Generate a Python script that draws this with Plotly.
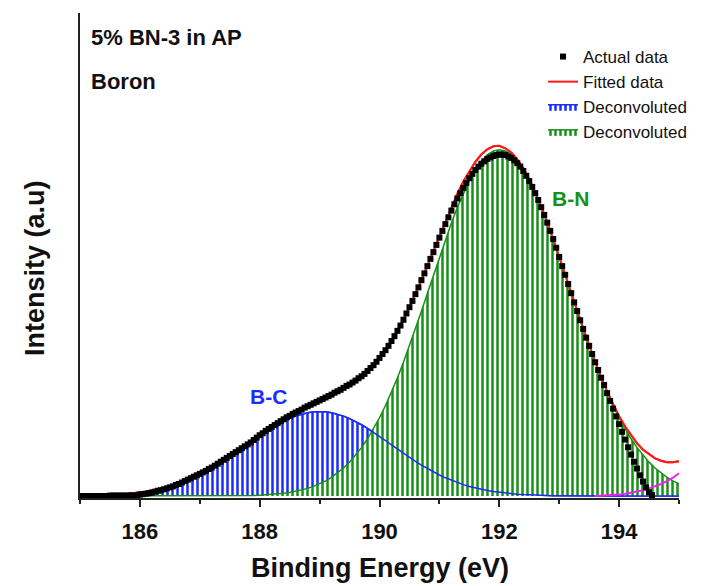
import numpy as np
import plotly.graph_objects as go

# ---------------- data ----------------
# component / fit grid: 185.0 .. 195.0 eV, step 0.1
energy_fit = [round(185.0 + 0.1 * i, 2) for i in range(101)]

bc_component = [
    0.0007, 0.0009, 0.0012, 0.0015, 0.0019, 0.0025, 0.0032, 0.0040, 0.0050, 0.0062,
    0.0077, 0.0094, 0.0115, 0.0139, 0.0167, 0.0200, 0.0237, 0.0279, 0.0326, 0.0378,
    0.0436, 0.0500, 0.0568, 0.0642, 0.0719, 0.0801, 0.0886, 0.0973, 0.1061, 0.1150,
    0.1237, 0.1321, 0.1401, 0.1476, 0.1544, 0.1604, 0.1655, 0.1696, 0.1726, 0.1744,
    0.1750, 0.1744, 0.1726, 0.1696, 0.1655, 0.1604, 0.1544, 0.1476, 0.1401, 0.1321,
    0.1237, 0.1150, 0.1061, 0.0973, 0.0886, 0.0801, 0.0719, 0.0642, 0.0568, 0.0500,
    0.0436, 0.0378, 0.0326, 0.0279, 0.0237, 0.0200, 0.0167, 0.0139, 0.0115, 0.0094,
    0.0077, 0.0062, 0.0050, 0.0040, 0.0032, 0.0025, 0.0019, 0.0015, 0.0012, 0.0009,
    0.0007, 0.0005, 0.0004, 0.0003, 0.0002, 0.0002, 0.0001, 0.0, 0.0, 0.0,
    0.0, 0.0, 0.0, 0.0, 0.0, 0.0, 0.0, 0.0, 0.0, 0.0,
    0.0,
]

bn_component = [
    0.0, 0.0, 0.0, 0.0, 0.0, 0.0, 0.0, 0.0, 0.0, 0.0,
    0.0, 0.0, 0.0, 0.0, 0.0, 0.0, 0.0, 0.0, 0.0, 0.0,
    0.0, 0.0, 0.0, 0.0, 0.0, 0.0, 0.0005, 0.0007, 0.0010, 0.0014,
    0.0019, 0.0025, 0.0033, 0.0044, 0.0058, 0.0075, 0.0098, 0.0125, 0.0159, 0.0201,
    0.0253, 0.0315, 0.0389, 0.0477, 0.0581, 0.0702, 0.0843, 0.1003, 0.1186, 0.1392,
    0.1621, 0.1874, 0.2150, 0.2449, 0.2768, 0.3107, 0.3460, 0.3825, 0.4198, 0.4572,
    0.4944, 0.5306, 0.5652, 0.5976, 0.6272, 0.6534, 0.6756, 0.6934, 0.7064, 0.7143,
    0.7170, 0.7143, 0.7064, 0.6934, 0.6756, 0.6534, 0.6272, 0.5976, 0.5652, 0.5306,
    0.4944, 0.4572, 0.4198, 0.3825, 0.3460, 0.3107, 0.2768, 0.2449, 0.2150, 0.1874,
    0.1621, 0.1392, 0.1186, 0.1003, 0.0843, 0.0702, 0.0581, 0.0477, 0.0389, 0.0315,
    0.0253,
]

fitted = [
    0.001, 0.001, 0.001, 0.002, 0.002, 0.003, 0.003, 0.004, 0.005, 0.006,
    0.008, 0.009, 0.012, 0.014, 0.017, 0.020, 0.024, 0.028, 0.033, 0.038,
    0.044, 0.050, 0.057, 0.064, 0.072, 0.080, 0.089, 0.098, 0.107, 0.116,
    0.126, 0.135, 0.143, 0.152, 0.160, 0.168, 0.175, 0.182, 0.189, 0.195,
    0.200, 0.206, 0.212, 0.217, 0.224, 0.231, 0.239, 0.248, 0.259, 0.271,
    0.286, 0.302, 0.321, 0.342, 0.365, 0.391, 0.418, 0.447, 0.477, 0.507,
    0.538, 0.568, 0.598, 0.626, 0.651, 0.673, 0.692, 0.707, 0.718, 0.724,
    0.725, 0.720, 0.711, 0.697, 0.679, 0.656, 0.629, 0.599, 0.566, 0.532,
    0.495, 0.458, 0.420, 0.383, 0.346, 0.311, 0.277, 0.245, 0.216, 0.189,
    0.165, 0.144, 0.126, 0.109, 0.096, 0.086, 0.078, 0.073, 0.070, 0.070,
    0.072,
]

# third (high-energy) component
energy_tail = [193.6, 193.7, 193.8, 193.9, 194.0, 194.1, 194.2, 194.3, 194.4,
               194.5, 194.6, 194.7, 194.8, 194.9, 195.0]
tail_component = [0.000, 0.0005, 0.001, 0.002, 0.003, 0.005, 0.007, 0.009, 0.012,
                  0.016, 0.020, 0.025, 0.031, 0.038, 0.047]

# measured data: 185.00 .. 194.55 eV, step 0.05
energy_data = [round(185.0 + 0.05 * i, 2) for i in range(192)]
actual = [
    0.000, 0.000, 0.000, 0.000, 0.000, 0.000, 0.000, 0.000, 0.000, 0.000,
    0.001, 0.001, 0.001, 0.001, 0.001, 0.001, 0.001, 0.001, 0.001, 0.001,
    0.003, 0.004, 0.005, 0.006, 0.007, 0.009, 0.011, 0.012, 0.014, 0.016,
    0.018, 0.020, 0.023, 0.025, 0.028, 0.031, 0.034, 0.037, 0.040, 0.043,
    0.046, 0.049, 0.052, 0.056, 0.059, 0.063, 0.067, 0.071, 0.075, 0.079,
    0.083, 0.087, 0.091, 0.095, 0.099, 0.103, 0.107, 0.111, 0.116, 0.121,
    0.126, 0.130, 0.135, 0.139, 0.143, 0.147, 0.151, 0.155, 0.159, 0.163,
    0.166, 0.170, 0.173, 0.176, 0.179, 0.183, 0.186, 0.189, 0.192, 0.195,
    0.198, 0.201, 0.204, 0.207, 0.210, 0.214, 0.217, 0.220, 0.224, 0.228,
    0.231, 0.235, 0.239, 0.244, 0.248, 0.253, 0.259, 0.265, 0.271, 0.278,
    0.286, 0.294, 0.302, 0.311, 0.321, 0.331, 0.342, 0.353, 0.365, 0.378,
    0.391, 0.404, 0.418, 0.432, 0.447, 0.461, 0.476, 0.491, 0.505, 0.520,
    0.535, 0.549, 0.563, 0.577, 0.591, 0.604, 0.616, 0.627, 0.638, 0.648,
    0.658, 0.667, 0.675, 0.682, 0.688, 0.693, 0.698, 0.701, 0.704, 0.706,
    0.707, 0.707, 0.706, 0.703, 0.700, 0.695, 0.689, 0.682, 0.673, 0.663,
    0.652, 0.640, 0.627, 0.613, 0.598, 0.582, 0.566, 0.549, 0.532, 0.514,
    0.495, 0.476, 0.458, 0.439, 0.420, 0.401, 0.383, 0.364, 0.346, 0.328,
    0.311, 0.294, 0.277, 0.261, 0.245, 0.230, 0.213, 0.197, 0.181, 0.165,
    0.149, 0.133, 0.117, 0.101, 0.086, 0.071, 0.057, 0.043, 0.030, 0.018,
    0.008, 0.002,
]

x_ticks = [186, 188, 190, 192, 194]
x_tick_text = ["186", "188", "190", "192", "194"]

# ---------------- styling ----------------
FONT = "Arial, 'Liberation Sans', sans-serif"
BLUE = "#1a2cff"
GREEN = "#179017"

fig = go.Figure()

# fitted envelope (drawn first, sits under everything)
fig.add_trace(go.Scatter(
    x=energy_fit, y=fitted, mode="lines", name="Fitted data",
    line=dict(color="#ff1a1a", width=2), legendrank=2,
))
# B-C filled component
fig.add_trace(go.Scatter(
    x=energy_fit, y=bc_component, mode="lines", name="Deconvoluted",
    line=dict(color=BLUE, width=1.5), fill="tozeroy",
    fillcolor="rgba(0,0,0,0)",
    fillpattern=dict(shape="|", fgcolor=BLUE, bgcolor="white",
                     size=5, solidity=0.5, fgopacity=1),
    legendrank=3,
))
# B-N filled component
fig.add_trace(go.Scatter(
    x=energy_fit, y=bn_component, mode="lines", name="Deconvoluted",
    line=dict(color=GREEN, width=1.5), fill="tozeroy",
    fillcolor="rgba(0,0,0,0)",
    fillpattern=dict(shape="|", fgcolor=GREEN, bgcolor="white",
                     size=5, solidity=0.5, fgopacity=1),
    legendrank=4,
))
# B-C edge drawn again on top of the green hatching
fig.add_trace(go.Scatter(
    x=energy_fit, y=bc_component, mode="lines", showlegend=False,
    line=dict(color=BLUE, width=1.5), hoverinfo="skip",
))
# fitted line again where it rises above the components (visible parts)
fig.add_trace(go.Scatter(
    x=energy_fit, y=fitted, mode="lines", showlegend=False,
    line=dict(color="#ff1a1a", width=2), hoverinfo="skip",
))
# tail component
fig.add_trace(go.Scatter(
    x=energy_tail, y=tail_component, mode="lines", showlegend=False,
    line=dict(color="#ee22ee", width=2),
))
# measured data
fig.add_trace(go.Scatter(
    x=energy_data, y=actual, mode="markers", name="Actual data",
    marker=dict(symbol="square", size=6, color="black"), legendrank=1,
))

W, H = 711, 586
L, R, T, B = 80, 32, 13, 88
PW, PH = W - L - R, H - T - B


def px_x(p):
    return (p - L) / PW


def px_y(p):
    return 1 - (p - T) / PH


annotations = [
    dict(text="<b>5% BN-3 in AP</b>", x=px_x(89), y=px_y(37), xanchor="left",
         yanchor="middle", font=dict(size=22, color="#111")),
    dict(text="<b>Boron</b>", x=px_x(89), y=px_y(82), xanchor="left",
         yanchor="middle", font=dict(size=22, color="#111")),
    dict(text="<b>B-N</b>", x=px_x(550), y=px_y(198), xanchor="left",
         yanchor="middle", font=dict(size=21, color=GREEN)),
    dict(text="<b>B-C</b>", x=px_x(248), y=px_y(396), xanchor="left",
         yanchor="middle", font=dict(size=21, color=BLUE)),
    dict(text="<b>Binding Energy (eV)</b>", x=px_x(380), y=px_y(568),
         xanchor="center", yanchor="middle", font=dict(size=27, color="#111")),
    dict(text="<b>Intensity (a.u)</b>", x=px_x(35), y=px_y(268), textangle=-90,
         xanchor="center", yanchor="middle", font=dict(size=27, color="#111")),
]
for a in annotations:
    a.update(xref="paper", yref="paper", showarrow=False)
    a["font"]["family"] = FONT

fig.update_layout(
    width=W, height=H,
    margin=dict(l=L, r=R, t=T, b=B),
    paper_bgcolor="white", plot_bgcolor="white",
    font=dict(family=FONT, color="#111"),
    showlegend=True,
    legend=dict(x=px_x(543), y=px_y(39), xanchor="left", yanchor="top",
                bgcolor="rgba(0,0,0,0)", font=dict(size=17, family=FONT),
                tracegroupgap=0, itemwidth=30),
    annotations=annotations,
    xaxis=dict(range=[185, 195], tickvals=x_ticks, ticktext=x_tick_text,
               ticks="outside", ticklen=7, tickwidth=1.5, tickcolor="#222",
               showline=True, linecolor="#222", linewidth=1.5,
               showgrid=False, zeroline=False,
               tickfont=dict(size=22, family=FONT, weight="bold", color="#111"),
               minor=dict(tickvals=[185, 187, 189, 191, 193, 195], ticks="outside",
                          ticklen=4, tickwidth=1.5, tickcolor="#222"),
               ticklabelstandoff=6),
    yaxis=dict(range=[-0.004, 1.0], showticklabels=False, ticks="",
               showline=True, linecolor="#222", linewidth=1.5,
               showgrid=False, zeroline=False),
)

fig.write_html("out.html")
